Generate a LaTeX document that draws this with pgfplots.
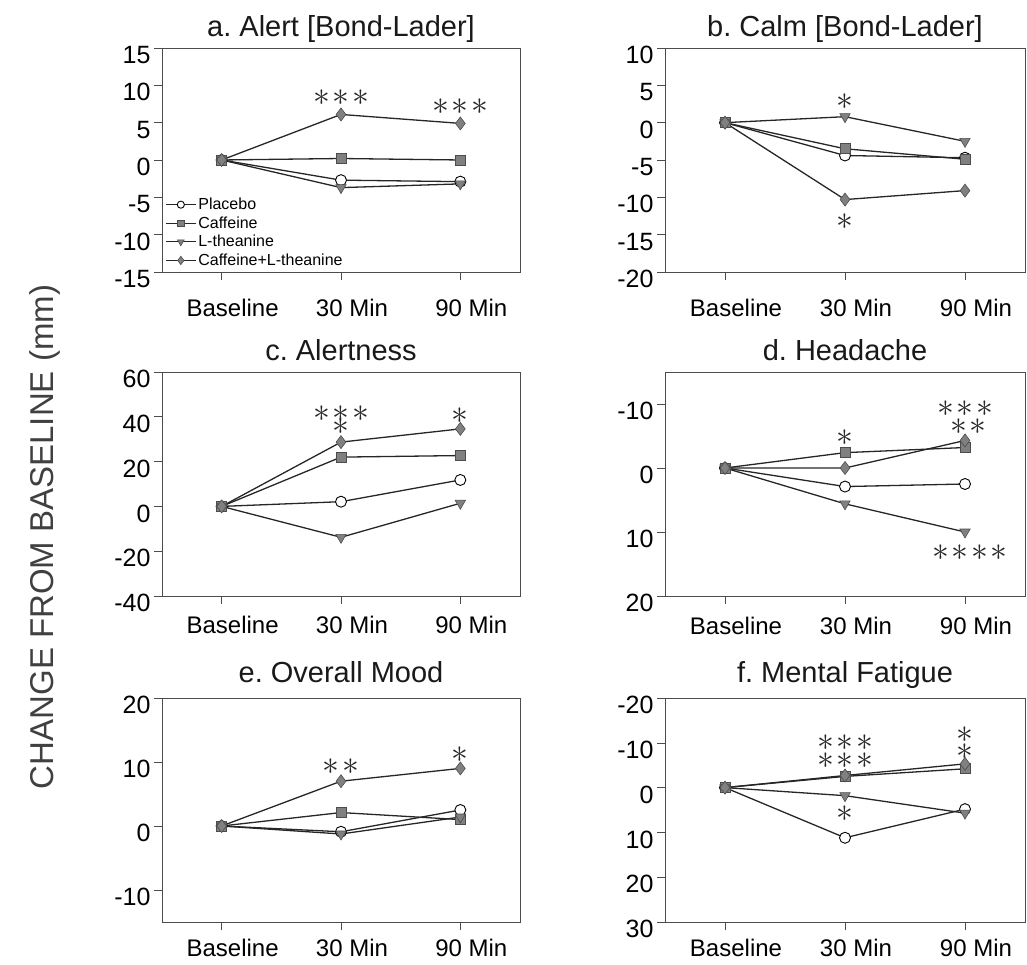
\documentclass[border=0pt]{standalone}
\usepackage{pgfplots}
\pgfplotsset{compat=1.18}
\usepackage{graphicx}
\usepackage{fontspec}
\setmainfont{Liberation Sans}
\frenchspacing

\newcommand{\SA}{\scalebox{1.35}{${\ast}$}}
\newcommand{\SB}{\scalebox{1.35}{${\ast}\kern2pt{\ast}$}}
\newcommand{\SC}{\scalebox{1.35}{${\ast}\kern2pt{\ast}\kern2pt{\ast}$}}
\newcommand{\SD}{\scalebox{1.35}{${\ast}\kern2pt{\ast}\kern2pt{\ast}\kern2pt{\ast}$}}

\tikzset{
  stx/.style={font=\fontsize{24.88}{24.88}\selectfont, inner sep=0pt, text=black!85},
  ttl/.style={anchor=base, font=\fontsize{29}{29}\selectfont, text=black!90},
}

\pgfplotsset{
  panel/.style={
    scale only axis, width=358pt, height=224pt,
    xmin=-0.5, xmax=2.5, xtick={0,1,2}, xticklabels={Baseline,30 Min,90 Min},
    axis line style={draw=black!70, line width=0.8pt},
    tick style={draw=black!70, line width=0.6pt},
    tick align=outside, major tick length=8pt,
    xtick pos=left, ytick pos=left,
    xticklabel style={font=\fontsize{24}{24}\selectfont, anchor=base, xshift=11pt},
    yticklabel style={font=\fontsize{25}{25}\selectfont, xshift=0pt, yshift=-7pt},
    every axis plot/.append style={line width=1.3pt, draw=black!85},
    clip=false,
  },
  toprow/.style={xticklabel style={yshift=-37pt}},
  midrow/.style={xticklabel style={yshift=-30pt}},
  botrow/.style={xticklabel style={yshift=-26pt}},
  plac/.style={mark=*, mark size=5.5pt, mark options={fill=white, draw=black, line width=0.9pt}},
  caff/.style={mark=square*, mark size=5pt, mark options={fill=black!50, draw=black!70, line width=0.6pt}},
  lthe/.style={mark=triangle*, mark size=6pt, mark options={rotate=180, fill=black!50, draw=black!70, line width=0.6pt}},
  comb/.style={mark=diamond*, mark size=6.5pt, mark options={fill=black!50, draw=black!70, line width=0.6pt}},
}

\begin{document}
\begin{tikzpicture}
\useasboundingbox (0,0) rectangle (1027pt,964pt);

% a
\begin{axis}[panel, toprow, at={(162pt,916pt)}, anchor=north west,
  ymin=-15, ymax=15, ytick={-15,-10,-5,0,5,10,15}, yticklabels={-15,-10,-5,0,5,10,15},
  legend style={at={(0.006,0.008)}, anchor=south west, draw=none, fill=none,
    font=\fontsize{16}{16}\selectfont, row sep=1.5pt, inner sep=1pt},
  legend cell align=left,
  legend image code/.code={\draw[mark repeat=2, mark phase=2, line width=1pt, /tikz/every mark/.append style={scale=0.65}] plot coordinates {(0pt,0pt) (15pt,0pt) (30pt,0pt)};}]
\addplot[plac] coordinates {(0,0) (1,-2.7) (2,-2.9)};
\addplot[caff] coordinates {(0,0) (1,0.2) (2,0)};
\addplot[lthe] coordinates {(0,0) (1,-3.7) (2,-3.2)};
\addplot[comb] coordinates {(0,0) (1,6.1) (2,4.9)};
\legend{Placebo, Caffeine, L-theanine, Caffeine+L-theanine}
\node[ttl, yshift=11pt] at (rel axis cs:0.5,1) {a. Alert [Bond-Lader]};
\node[stx] at (axis cs:1,8.4) {\SC};
\node[stx] at (axis cs:2,7.2) {\SC};
\end{axis}

% b
\begin{axis}[panel, toprow, width=360pt, at={(665pt,916pt)}, anchor=north west,
  ymin=-20, ymax=10, ytick={-20,-15,-10,-5,0,5,10}, yticklabels={-20,-15,-10,-5,0,5,10}]
\addplot[plac] coordinates {(0,0) (1,-4.4) (2,-4.7)};
\addplot[caff] coordinates {(0,0) (1,-3.5) (2,-4.9)};
\addplot[lthe] coordinates {(0,0) (1,0.8) (2,-2.5)};
\addplot[comb] coordinates {(0,0) (1,-10.3) (2,-9.1)};
\node[ttl, yshift=11pt] at (rel axis cs:0.5,1) {b. Calm [Bond-Lader]};
\node[stx] at (axis cs:1,2.8) {\SA};
\node[stx] at (axis cs:1,-13.3) {\SA};
\end{axis}

% c
\begin{axis}[panel, midrow, at={(162pt,592pt)}, anchor=north west,
  ymin=-40, ymax=60, ytick={-40,-20,0,20,40,60}, yticklabels={-40,-20,0,20,40,60}]
\addplot[plac] coordinates {(0,0) (1,2.1) (2,11.8)};
\addplot[caff] coordinates {(0,0) (1,22) (2,22.7)};
\addplot[lthe] coordinates {(0,0) (1,-13.8) (2,1.4)};
\addplot[comb] coordinates {(0,0) (1,28.7) (2,34.6)};
\node[ttl, yshift=11pt] at (rel axis cs:0.5,1) {c. Alertness};
\node[stx] at (axis cs:1,41.5) {\SC};
\node[stx] at (axis cs:1,35.5) {\SA};
\node[stx] at (axis cs:2,40.5) {\SA};
\end{axis}

% d
\begin{axis}[panel, midrow, width=360pt, at={(665pt,592pt)}, anchor=north west,
  y dir=reverse,
  ymin=-15, ymax=20, ytick={-10,0,10,20}, yticklabels={-10,0,10,20}]
\addplot[plac] coordinates {(0,0) (1,2.9) (2,2.5)};
\addplot[caff] coordinates {(0,0) (1,-2.4) (2,-3.2)};
\addplot[lthe] coordinates {(0,0) (1,5.6) (2,10)};
\addplot[comb] coordinates {(0,0) (1,0) (2,-4.3)};
\node[ttl, yshift=11pt] at (rel axis cs:0.5,1) {d. Headache};
\node[stx] at (axis cs:1,-4.8) {\SA};
\node[stx] at (axis cs:2,-9.3) {\SC};
\node[stx] at (axis cs:2.03,-6.4) {\SB};
\node[stx] at (axis cs:2.04,13.2) {\SD};
\end{axis}

% e
\begin{axis}[panel, botrow, at={(162pt,266pt)}, anchor=north west,
  ymin=-15, ymax=20, ytick={-10,0,10,20}, yticklabels={-10,0,10,20}]
\addplot[plac] coordinates {(0,0) (1,-0.9) (2,2.5)};
\addplot[caff] coordinates {(0,0) (1,2.1) (2,1.0)};
\addplot[lthe] coordinates {(0,0) (1,-1.25) (2,1.4)};
\addplot[comb] coordinates {(0,0) (1,7.0) (2,9.0)};
\node[ttl, yshift=16pt] at (rel axis cs:0.5,1) {e. Overall Mood};
\node[stx] at (axis cs:1,9.2) {\SB};
\node[stx] at (axis cs:2,11.1) {\SA};
\end{axis}

% f
\begin{axis}[panel, botrow, width=360pt, at={(665pt,266pt)}, anchor=north west,
  y dir=reverse,
  ymin=-20, ymax=30, ytick={-20,-10,0,10,20,30}, yticklabels={-20,-10,0,10,20,30}]
\addplot[plac] coordinates {(0,0) (1,11.2) (2,4.8)};
\addplot[caff] coordinates {(0,0) (1,-2.5) (2,-4.2)};
\addplot[lthe] coordinates {(0,0) (1,1.8) (2,5.7)};
\addplot[comb] coordinates {(0,0) (1,-2.7) (2,-5.3)};
\node[ttl, yshift=16pt] at (rel axis cs:0.5,1) {f. Mental Fatigue};
\node[stx] at (axis cs:1,-10.1) {\SC};
\node[stx] at (axis cs:1,-6.0) {\SC};
\node[stx] at (axis cs:2,-11.8) {\SA};
\node[stx] at (axis cs:2,-8.1) {\SA};
\node[stx] at (axis cs:1,5.8) {\SA};
\end{axis}

\node[rotate=90, font=\fontsize{33}{33}\selectfont, text=black!75] at (45pt,427pt) {CHANGE FROM BASELINE (mm)};
\end{tikzpicture}
\end{document}
